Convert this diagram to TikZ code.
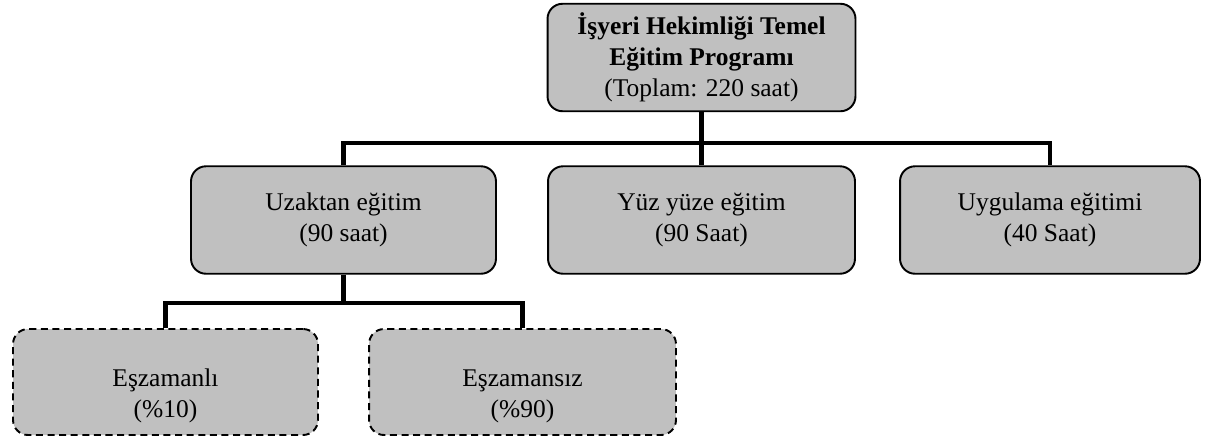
\documentclass[tikz,border=0pt]{standalone}
\usepackage{fontspec}
\setmainfont{Liberation Serif}
\definecolor{boxgray}{RGB}{192,192,192}

\begin{document}
\begin{tikzpicture}[x=0.02cm, y=-0.02cm,
    unit/.style={draw=black, line width=1.1pt, fill=boxgray,
      rounded corners=0.3cm, align=center, inner sep=0pt,
      minimum height=2.15cm, font=\fontsize{14.5}{17.5}\selectfont},
    subunit/.style={unit, dash pattern=on 4pt off 2.6pt,
      minimum height=2.12cm},
    sublabel/.style={align=center, inner sep=0pt,
      font=\fontsize{14.5}{17.5}\selectfont},
    link/.style={line width=2.8pt}]
  \useasboundingbox (0,0) rectangle (1216,441);

  % program
  \node[unit, minimum width=6.16cm] (prog) at (701.5,57.5)
    {\textbf{İşyeri Hekimliği Temel}\\ \textbf{Eğitim Programı}\\ (Toplam: 220 saat)};

  % main parts
  \node[unit, minimum width=6.1cm] (uzak) at (343.5,220) {Uzaktan eğitim\\ (90 saat)};
  \node[unit, minimum width=6.14cm] (yuz) at (701.5,220) {Yüz yüze eğitim\\ (90 Saat)};
  \node[unit, minimum width=6cm] (uyg) at (1050,220) {Uygulama eğitimi\\ (40 Saat)};

  % parts of uzaktan (text sits low in the box)
  \node[subunit, minimum width=6.1cm] (es) at (165.5,382) {};
  \node[subunit, minimum width=6.14cm] (esz) at (522.5,382) {};
  \node[sublabel] (es-text) at (165.5,396) {Eşzamanlı\\ (\%10)};
  \node[sublabel] (esz-text) at (522.5,396) {Eşzamansız\\ (\%90)};

  \coordinate (bus) at (701.5,143);
  \coordinate (subbus) at (343.5,303);

  \draw[link] (prog.south) -- (yuz.north);
  \draw[link] (uzak.north) |- (bus) -| (uyg.north);
  \draw[link] (uzak.south) -- (subbus);
  \draw[link] (es.north) |- (subbus) -| (esz.north);
\end{tikzpicture}
\end{document}
